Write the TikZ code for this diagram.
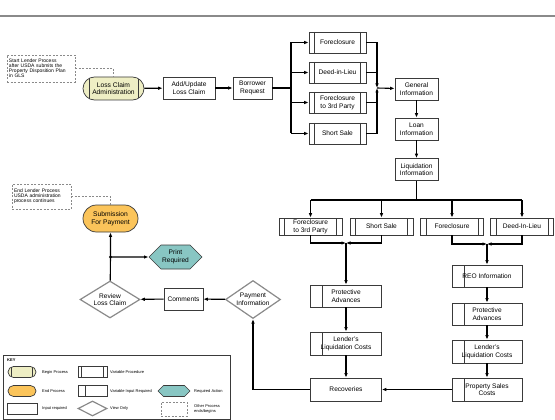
\documentclass[tikz,border=0pt]{standalone}
\usepackage{fontspec}
\setmainfont{Liberation Sans}
\usetikzlibrary{arrows.meta,shapes.geometric,shapes.misc,shapes.symbols}
\definecolor{boxline}{HTML}{3A3A3A}
\definecolor{viewline}{HTML}{8A8A8A}
\definecolor{beginfill}{HTML}{EEEEC4}
\definecolor{endfill}{HTML}{FBC45A}
\definecolor{actionfill}{HTML}{88C6C3}

\begin{document}
\begin{tikzpicture}[x=1pt,y=-1pt,
        box/.style={rectangle, draw=boxline, line width=0.7pt, fill=white, align=center, inner sep=1pt, font=\fontsize{6.6}{7.7}\selectfont},
        varproc/.style={box, path picture={
                \draw[boxline,line width=0.7pt] ([xshift=#1]path picture bounding box.north west) -- ([xshift=#1]path picture bounding box.south west);
                \draw[boxline,line width=0.7pt] ([xshift=-#1]path picture bounding box.north east) -- ([xshift=-#1]path picture bounding box.south east);}},
        varproc/.default=5.5pt,
        varinput/.style={box, path picture={
                \draw[boxline,line width=0.7pt] ([xshift=#1]path picture bounding box.north west) -- ([xshift=#1]path picture bounding box.south west);}},
        varinput/.default=12pt,
        begin/.style={rounded rectangle, draw=boxline, line width=0.7pt, fill=beginfill, align=center, inner sep=1pt, font=\fontsize{6.7}{7.7}\selectfont, path picture={
                \draw[boxline,line width=0.7pt] ([xshift=#1]path picture bounding box.north west) -- ([xshift=#1]path picture bounding box.south west);
                \draw[boxline,line width=0.7pt] ([xshift=-#1]path picture bounding box.north east) -- ([xshift=-#1]path picture bounding box.south east);}},
        begin/.default=6pt,
        finish/.style={rounded rectangle, draw=boxline, line width=0.7pt, fill=endfill, align=center, inner sep=1pt, font=\fontsize{6.7}{7.7}\selectfont},
        view/.style={diamond, draw=viewline, line width=1.2pt, fill=white, aspect=1.5, align=center, inner sep=0pt, font=\fontsize{6.6}{7.7}\selectfont},
        action/.style={signal, signal to=west and east, draw=boxline, line width=0.7pt, fill=actionfill, align=center, inner sep=1pt, font=\fontsize{6.6}{7.7}\selectfont},
        note/.style={rectangle, draw=viewline, line width=0.8pt, dash pattern=on 2pt off 1.5pt, align=left, inner sep=2pt, font=\fontsize{5}{5}\selectfont},
        noteline/.style={draw=viewline, line width=0.8pt, dash pattern=on 2pt off 1.5pt},
        line/.style={draw=black, line width=1.1pt},
        flow/.style={line, -{Latex[length=4.5pt,width=3.6pt]}},
        keytext/.style={anchor=west, inner sep=0pt, align=left, font=\fontsize{4}{4.5}\selectfont}]
        \useasboundingbox (0,0) rectangle (555,420);
        \draw[viewline, line width=1.3pt] (0,16) -- (555,16);

        \node (startnote) [note, text width=64pt, minimum height=27pt] at (41,68.5) {Start Lender Process\\after USDA submits the\\Property Disposition Plan\\in GLS};
        \node (lca) [begin, minimum width=63pt, minimum height=23pt] at (113.5,88.5) {Loss Claim\\Administration};
        \node (addupd) [box, minimum width=52pt, minimum height=22pt] at (189,88) {Add/Update\\Loss Claim};
        \node (borrow) [box, minimum width=39pt, minimum height=22pt] at (252.5,88) {Borrower\\Request};
        \node (fc1) [varproc, minimum width=57pt, minimum height=21pt] at (337.5,42.5) {Foreclosure};
        \node (dil1) [varproc, minimum width=57pt, minimum height=21pt] at (337.5,72.5) {Deed-in-Lieu};
        \node (fcthird1) [varproc, minimum width=57pt, minimum height=21pt] at (337.5,102.5) {Foreclosure\\to 3rd Party};
        \node (ss1) [varproc, minimum width=57pt, minimum height=21pt] at (337.5,133.5) {Short Sale};
        \coordinate (split) at (291,88);
        \coordinate (merge) at (377,88);
        \node (geninfo) [box, minimum width=43pt, minimum height=22pt] at (416.5,89) {General\\Information};
        \node (loan) [box, minimum width=43pt, minimum height=22pt] at (416.5,129) {Loan\\Information};
        \node (liq) [box, minimum width=43pt, minimum height=22pt] at (416.5,169.5) {Liquidation\\Information};
        \coordinate (fork) at (416.5,200);
        \node (fcthird2) [varproc, minimum width=63pt, minimum height=17pt] at (310.5,226.5) {Foreclosure\\to 3rd Party};
        \node (ss2) [varproc, minimum width=63pt, minimum height=17pt] at (381.5,226.5) {Short Sale};
        \node (fc2) [varproc, minimum width=63pt, minimum height=17pt] at (452,226.5) {Foreclosure};
        \node (dil2) [varproc, minimum width=63pt, minimum height=17pt] at (522,226.5) {Deed-In-Lieu};
        \coordinate (mergeL) at (346,243);
        \coordinate (mergeR) at (487,244);
        \node (protL) [varinput, minimum width=71pt, minimum height=22pt] at (346,296) {Protective\\Advances};
        \node (lenderL) [varinput, minimum width=71pt, minimum height=23pt] at (346,343.5) {Lender's\\Liquidation Costs};
        \node (recov) [box, minimum width=71pt, minimum height=23pt] at (346,389.5) {Recoveries};
        \node (reo) [varinput, minimum width=70pt, minimum height=22pt] at (487,276) {REO Information};
        \node (protR) [varinput, minimum width=70pt, minimum height=22pt] at (487,314) {Protective\\Advances};
        \node (lenderR) [varinput, minimum width=70pt, minimum height=23pt] at (487,351.5) {Lender's\\Liquidation Costs};
        \node (propsales) [varinput, minimum width=70pt, minimum height=23pt] at (487,389.5) {Property Sales\\Costs};
        \node (payinfo) [view, minimum width=55pt, minimum height=38pt] at (253,299.5) {Payment\\Information};
        \node (comments) [box, minimum width=39pt, minimum height=22pt] at (183.5,299) {Comments};
        \node (review) [view, minimum width=60pt, minimum height=37pt] at (110,299.5) {Review\\Loss Claim};
        \node (submit) [finish, minimum width=57pt, minimum height=27pt] at (110.5,218.5) {Submission\\For Payment};
        \coordinate (dot) at (110.5,257);
        \node (print) [action, minimum width=53pt, minimum height=24pt] at (175.5,257) {Print\\Required};
        \node (endnote) [note, text width=55pt, minimum height=25pt] at (41.5,196.5) {End Lender Process\\USDA administration\\process continues};

        \draw[noteline] (startnote.east) -| (lca.north);
        \draw[noteline] (endnote.east) -| (submit.north);
        \draw[flow] (lca) -- (addupd);
        \draw[flow] (addupd) -- (borrow);
        \draw[line] (borrow) -- (split);
        \draw[line] (split |- fc1) -- (split |- ss1);
        \foreach \n in {fc1,dil1,fcthird1,ss1}
                \draw[flow] (split |- \n) -- (\n);
        \draw[flow] (fc1) -| (merge);
        \draw[line] (dil1) -- (dil1 -| merge);
        \draw[line] (fcthird1) -- (fcthird1 -| merge);
        \draw[flow] (ss1) -| (merge);
        \draw[flow] (merge) -- (geninfo);
        \draw[flow] (geninfo) -- (loan);
        \draw[flow] (loan) -- (liq);
        \draw[line] (liq) -- (fork);
        \draw[line] (fork -| fcthird2) -- (fork -| dil2);
        \foreach \n in {fcthird2,ss2,fc2,dil2}
                \draw[flow] (fork -| \n) -- (\n);
        \draw[flow] (fcthird2) |- (mergeL);
        \draw[flow] (ss2) |- (mergeL);
        \draw[flow] (mergeL) -- (protL);
        \draw[flow] (fc2) |- (mergeR);
        \draw[flow] (dil2) |- (mergeR);
        \draw[flow] (mergeR) -- (reo);
        \draw[flow] (protL) -- (lenderL);
        \draw[flow] (lenderL) -- (recov);
        \draw[flow] (reo) -- (protR);
        \draw[flow] (protR) -- (lenderR);
        \draw[flow] (lenderR) -- (propsales);
        \draw[flow] (propsales) -- (recov);
        \draw[flow] (recov) -| (payinfo);
        \draw[flow] (payinfo) -- (comments);
        \draw[flow] (comments) -- (review);
        \draw[line] (review) -- (dot);
        \draw[flow] (dot) -- (submit);
        \draw[flow] (dot) -- (print);
        \fill (dot) circle (1.6pt);

        \node (key) [rectangle, draw=boxline, line width=0.7pt, minimum width=227pt, minimum height=64pt] at (116.5,387) {};
        \node (keytitle) [keytext, font=\fontsize{4}{4.5}\selectfont\bfseries] at (7,360) {KEY};
        \node (kbegin) [begin=3.5pt, minimum width=30pt, minimum height=11pt] at (22,372) {};
        \node (kfinish) [finish, minimum width=30pt, minimum height=11pt] at (22,391) {};
        \node (kbox) [box, minimum width=30pt, minimum height=11pt] at (22,408.5) {};
        \node (kvarproc) [varproc=3.5pt, minimum width=29pt, minimum height=11pt] at (92.5,372) {};
        \node (kvarinput) [varinput=7pt, minimum width=29pt, minimum height=11pt] at (92.5,391) {};
        \node (kview) [view, minimum width=29pt, minimum height=15pt] at (92.5,408.5) {};
        \node (kaction) [action, minimum width=32pt, minimum height=11pt] at (174,391) {};
        \node (knote) [note, minimum width=26pt, minimum height=14pt] at (174,409) {};
        \node [keytext] at (42,372) {Begin Process};
        \node [keytext] at (42,391) {End Process};
        \node [keytext] at (42,408.5) {Input required};
        \node [keytext] at (110,372) {Variable Procedure};
        \node [keytext] at (110,391) {Variable Input Required};
        \node [keytext] at (110,408.5) {View Only};
        \node [keytext] at (194,391) {Required Action};
        \node [keytext] at (194,409) {Other Process\\ends/begins};
\end{tikzpicture}
\end{document}
